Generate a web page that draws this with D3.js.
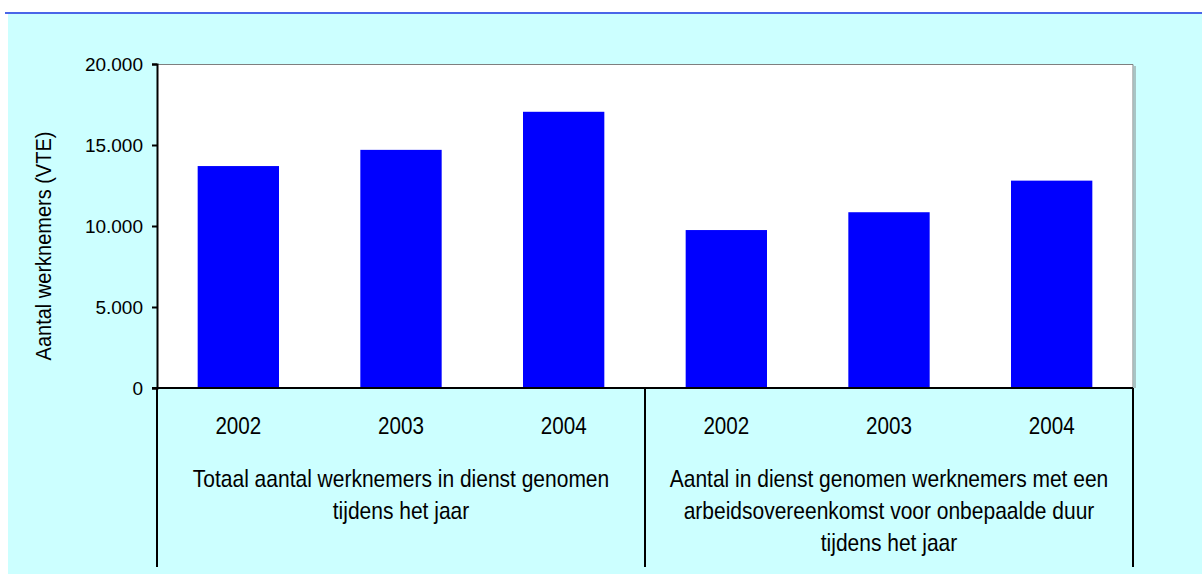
<!DOCTYPE html>
<html>
<head>
<meta charset="utf-8">
<script src="https://cdn.jsdelivr.net/npm/d3@7"></script>
<style>
  body { margin: 0; background: #fff; }
  svg text { font-family: "Liberation Sans", Arial, sans-serif; fill: #000; }
</style>
</head>
<body>
<div id="plot"></div>
<script>
// Data
const groups = [
  "Totaal aantal werknemers in dienst genomen|tijdens het jaar",
  "Aantal in dienst genomen werknemers met een|arbeidsovereenkomst voor onbepaalde duur|tijdens het jaar"
];
const years = ["2002", "2003", "2004"];
const totaal = [13700, 14700, 17050];
const onbepaald = [9750, 10850, 12800];
const yTicks = [0, 5000, 10000, 15000, 20000];
const yTitle = "Aantal werknemers (VTE)";

const data = [];
[totaal, onbepaald].forEach((vals, g) => {
  vals.forEach((v, i) => data.push({ key: g + "-" + years[i], group: g, year: years[i], value: v }));
});

const W = 1202, H = 574;
const margin = { top: 64, right: 69, bottom: 186, left: 157 },
      width = W - margin.left - margin.right,
      height = H - margin.top - margin.bottom;

const root = d3.select("#plot")
  .append("svg")
    .attr("width", W)
    .attr("height", H);

// background panel + blue rule
root.append("rect")
  .attr("x", 8).attr("y", 14)
  .attr("width", W - 8).attr("height", H - 14)
  .attr("fill", "#ccffff");
root.append("line")
  .attr("x1", 5).attr("x2", W)
  .attr("y1", 13).attr("y2", 13)
  .attr("stroke", "#4a66e8").attr("stroke-width", 2);

const svg = root.append("g")
  .attr("transform", `translate(${margin.left},${margin.top})`);

// plot area
svg.append("rect")
  .attr("width", width).attr("height", height)
  .attr("fill", "#fff");
svg.append("path")
  .attr("d", `M0,0.5H${width}V${height}`)
  .attr("fill", "none").attr("stroke", "#7f7f7f").attr("stroke-width", 1);
svg.append("line")
  .attr("x1", width + 2).attr("x2", width + 2)
  .attr("y1", 2).attr("y2", height)
  .attr("stroke", "#a9c4c4").attr("stroke-width", 2);

// X scale
const x = d3.scaleBand()
  .domain(data.map(d => d.key))
  .range([0, width])
  .paddingInner(0.5)
  .paddingOuter(0.25);

// Y scale
const y = d3.scaleLinear()
  .domain([0, 20000])
  .range([height, 0]);

// Bars
svg.selectAll("rect.bar")
  .data(data)
  .join("rect")
    .attr("class", "bar")
    .attr("x", d => x(d.key))
    .attr("y", d => y(d.value))
    .attr("width", x.bandwidth())
    .attr("height", d => height - y(d.value))
    .attr("fill", "#0000ff");

// Y axis
const fmt = d3.format(",");
const yAxis = svg.append("g")
  .call(d3.axisLeft(y)
    .tickValues(yTicks)
    .tickSize(5)
    .tickPadding(9)
    .tickFormat(d => fmt(d).replace(/,/g, ".")));
yAxis.select(".domain").attr("stroke", "#000").attr("stroke-width", 2);
yAxis.selectAll(".tick line").attr("stroke", "#000").attr("stroke-width", 2);
yAxis.selectAll("text")
  .style("font-family", "'Liberation Sans', Arial, sans-serif")
  .style("font-size", "19px")
  .attr("fill", "#000");

// zero line
svg.append("line")
  .attr("x1", -5).attr("x2", width)
  .attr("y1", y(0)).attr("y2", y(0))
  .attr("stroke", "#000").attr("stroke-width", 2);

// category axis dividers
const divX = [0, width / 2, width];
svg.selectAll("line.div")
  .data(divX)
  .join("line")
    .attr("class", "div")
    .attr("x1", d => d).attr("x2", d => d)
    .attr("y1", height).attr("y2", height + 179)
    .attr("stroke", "#000").attr("stroke-width", 2);

// year labels
svg.selectAll("text.year")
  .data(data)
  .join("text")
    .attr("class", "year")
    .attr("transform", d => `translate(${x(d.key) + x.bandwidth() / 2},${height + 46}) scale(0.86,1)`)
    .attr("text-anchor", "middle")
    .style("font-size", "24px")
    .text(d => d.year);

// group labels
groups.forEach((g, gi) => {
  const cx = width / 4 + gi * width / 2;
  g.split("|").forEach((line, li) => {
    svg.append("text")
      .attr("transform", `translate(${cx},${height + 99 + li * 32}) scale(0.875,1)`)
      .attr("text-anchor", "middle")
      .style("font-size", "24px")
      .text(line);
  });
});

// Y title
root.append("text")
  .attr("transform", "translate(51,246) rotate(-90) scale(0.93,1)")
  .attr("text-anchor", "middle")
  .style("font-size", "21.5px")
  .text(yTitle);
</script>
</body>
</html>
